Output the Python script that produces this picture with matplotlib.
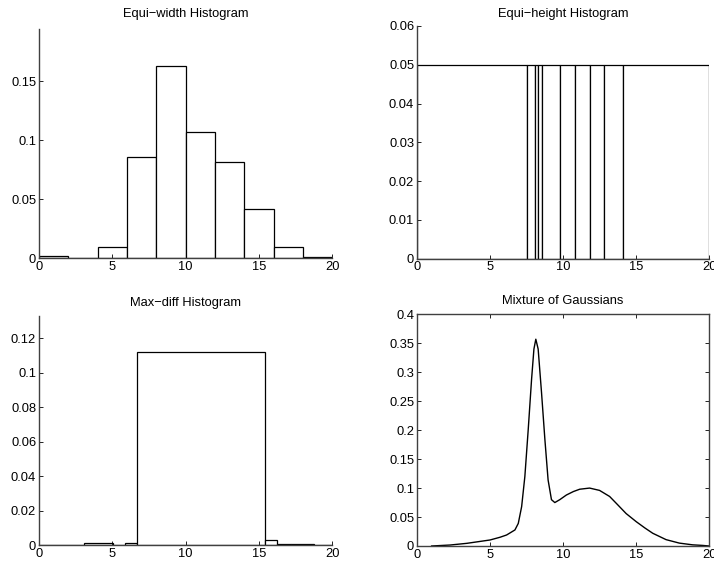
import matplotlib
matplotlib.use("Agg")
from matplotlib import pyplot as plt

matplotlib.rc('font', family=["Liberation Sans", "DejaVu Sans"], size=9.3)

# Equi-width histogram: bin edges and heights
ew_edges = [0, 2, 4, 6, 8, 10, 12, 14, 16, 18, 20]
ew_heights = [0.002, 0.0, 0.0098, 0.0856, 0.1624, 0.107, 0.0817, 0.0415, 0.0096, 0.0015]

# Equi-height histogram
eh_edges = [0, 7.52, 8.04, 8.29, 8.56, 9.77, 10.84, 11.82, 12.82, 14.12, 20]
eh_heights = [0.05] * 10

# Max-diff histogram
md_edges = [0, 3.09, 5.02, 5.86, 6.66, 15.4, 16.2, 17.18, 18.77, 20]
md_heights = [0.0004, 0.0014, 0.0004, 0.0014, 0.112, 0.0031, 0.0008, 0.0008, 0.0003]

# Mixture of Gaussians curve
mg_x = [1.0, 2.27, 3.41, 5.0, 5.68, 6.13, 6.70, 6.93, 7.16, 7.38, 7.61, 7.84,
        8.0, 8.13, 8.29, 8.52, 8.75, 8.97, 9.2, 9.43, 9.77, 10.22, 10.7, 11.13,
        11.81, 12.49, 13.18, 13.7, 14.31, 15.0, 15.6, 16.13, 17.04, 17.95,
        18.86, 19.54, 20.0]
mg_y = [0.0, 0.0017, 0.0046, 0.0104, 0.0151, 0.019, 0.0277, 0.039, 0.068, 0.120,
        0.201, 0.288, 0.340, 0.357, 0.340, 0.265, 0.184, 0.114, 0.080, 0.075,
        0.080, 0.088, 0.094, 0.098, 0.100, 0.096, 0.0855, 0.072, 0.056, 0.042,
        0.031, 0.022, 0.011, 0.005, 0.002, 0.001, 0.0]

x_ticks = [0, 5, 10, 15, 20]
x_labels = ["0", "5", "10", "15", "20"]
ew_yticks = [0, 0.05, 0.1, 0.15]
ew_ylabels = ["0", "0.05", "0.1", "0.15"]
eh_yticks = [0, 0.01, 0.02, 0.03, 0.04, 0.05, 0.06]
eh_ylabels = ["0", "0.01", "0.02", "0.03", "0.04", "0.05", "0.06"]
md_yticks = [0, 0.02, 0.04, 0.06, 0.08, 0.1, 0.12]
md_ylabels = ["0", "0.02", "0.04", "0.06", "0.08", "0.1", "0.12"]
mg_yticks = [0, 0.05, 0.1, 0.15, 0.2, 0.25, 0.3, 0.35, 0.4]
mg_ylabels = ["0", "0.05", "0.1", "0.15", "0.2", "0.25", "0.3", "0.35", "0.4"]

fig = plt.figure(figsize=(7.14, 5.63), dpi=100)
W, H = 714.0, 563.0


def make_axes(left, right, bottom, top):
    return fig.add_axes([left / W, (H - bottom) / H, (right - left) / W, (bottom - top) / H])


def style(ax, ymax, yticks, ylabels, box=False):
    ax.set_xlim(0, 20)
    ax.set_ylim(0, ymax)
    ax.set_xticks(x_ticks)
    ax.set_xticklabels(x_labels)
    ax.set_yticks(yticks)
    ax.set_yticklabels(ylabels)
    ax.tick_params(direction='in', length=3, width=0.6, pad=2, labelsize=9.3,
                   top=box, right=box)
    for s in ['top', 'right']:
        ax.spines[s].set_visible(box)
    for s in ax.spines.values():
        s.set_linewidth(1.0)
        s.set_color('0.25')


def hist(ax, edges, heights):
    widths = [edges[i + 1] - edges[i] for i in range(len(heights))]
    ax.bar(edges[:-1], heights, width=widths, align='edge', color='white',
           edgecolor='black', linewidth=0.9)


ax1 = make_axes(39, 332.3, 258.3, 29)
hist(ax1, ew_edges, ew_heights)
style(ax1, 0.194, ew_yticks, ew_ylabels)
fig.text(185.5 / W, (H - 14) / H, "Equi\u2212width Histogram", ha='center', va='center')

ax2 = make_axes(417, 709.3, 258.7, 26)
hist(ax2, eh_edges, eh_heights)
style(ax2, 0.06, eh_yticks, eh_ylabels)
fig.text(563 / W, (H - 14) / H, "Equi\u2212height Histogram", ha='center', va='center')

ax3 = make_axes(39, 332.3, 545.3, 316)
hist(ax3, md_edges, md_heights)
style(ax3, 0.133, md_yticks, md_ylabels)
fig.text(185.5 / W, (H - 302.7) / H, "Max\u2212diff Histogram", ha='center', va='center')

ax4 = make_axes(417, 709.3, 546, 314.3)
ax4.plot(mg_x, mg_y, color='black', linewidth=1.0)
style(ax4, 0.4, mg_yticks, mg_ylabels, box=True)
fig.text(563 / W, (H - 300.7) / H, "Mixture of Gaussians", ha='center', va='center')

fig.savefig("out.png", dpi=100)
